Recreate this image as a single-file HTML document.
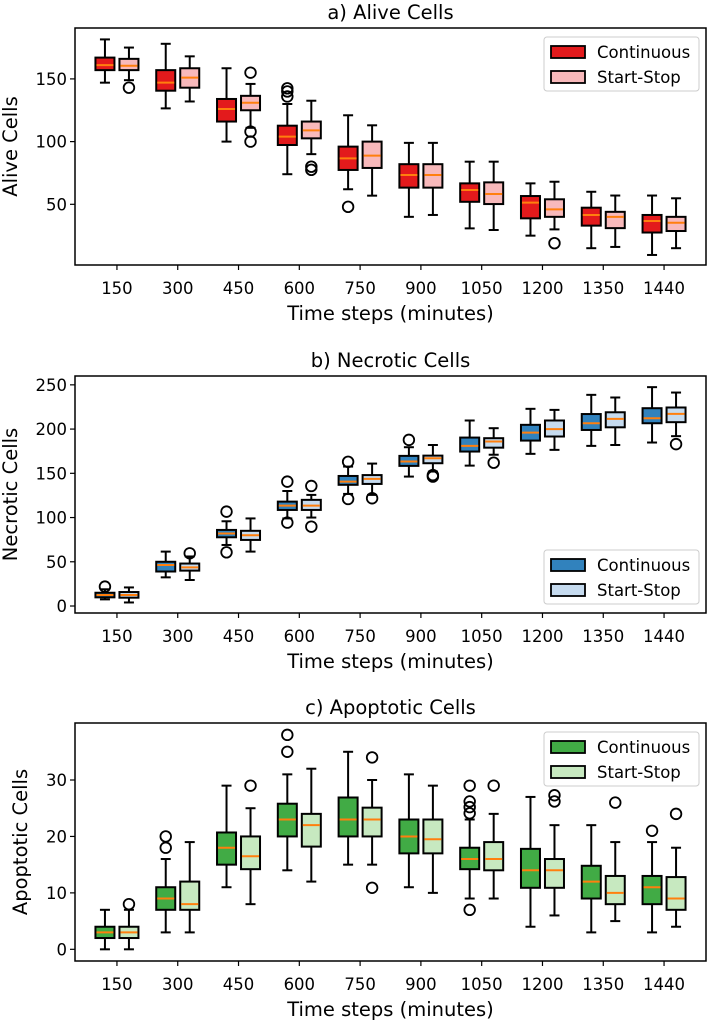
<!DOCTYPE html>
<html><head><meta charset="utf-8">
<style>
html,body{margin:0;padding:0;background:#fff;}
svg{display:block;font-family:"DejaVu Sans","Liberation Sans",sans-serif;}
</style></head>
<body>
<svg id="fig" width="708" height="1020" viewBox="0 0 708 1020" xmlns="http://www.w3.org/2000/svg"></svg>
<script>
const categories = ["150","300","450","600","750","900","1050","1200","1350","1440"];
const seriesNames = ["Continuous","Start-Stop"];
// [whiskerLow, Q1, median, Q3, whiskerHigh]
const aliveCont = [[147,157,161,167,181.5],[126.5,140.6,147,157,178],[100,116,126,134,158.5],[74,97.3,104,112.7,130],[62,77.4,86.6,96,121],[40,63.3,73.4,82,99],[30.8,52,61.4,66.7,84],[25,38.8,51.3,56.6,66.7],[15,33,41.5,47.3,60],[9.6,27.5,36.7,41.5,57]];
const aliveSS = [[149,157,160.5,166,175],[132,143,151,158.5,168],[111,125,131,136.5,146],[90,102.6,109,116,132.6],[56.9,79,88.8,100,113],[41.5,63.3,73.4,82,99],[29.5,50.2,58.2,67.5,84],[30,40,46,54,68],[16,31,40,44,57],[15,28.7,35.3,40,54.8]];
const aliveContOut = [[],[],[],[142.5,140,136],[48],[],[],[],[],[]];
const aliveSSOut = [[143],[],[155,108,100],[80,77.5],[],[],[],[19],[],[]];
const necCont = [[7.5,9.8,12.4,15,18.9],[32.4,39,46.4,50,61.5],[69,77.7,82,86,95.8],[99,108.6,113.5,118,130],[126.7,137,140.6,147,157.6],[146.3,158.4,163.3,169.7,179.5],[158.7,174.6,181,190.4,209.7],[172,187,196,204.8,222.9],[181,199,206.6,217,238.7],[184.8,206.6,212.3,223.6,247.4]];
const necSS = [[4,9.4,12.4,15.8,21],[29.4,40,43.7,48,56],[61.5,74.7,80,85,99],[100,108.6,113.5,120,125.6],[125.6,138,143.7,148,161],[152,161.4,167,170,182],[171,179,186,189.7,201],[176.5,191.6,200,209.7,221.7],[182,202,211.5,219,235.7],[192,207.8,217.2,224.4,241.3]];
const necContOut = [[21.9],[],[106.7,60.7],[140.6,94.3],[163,121],[187.8],[],[],[],[]];
const necSSOut = [[],[59.6],[],[135.7,89.7],[121.8],[148,146.3],[162],[],[],[183]];
const apoCont = [[0,2,3,4,7],[3,7,9,11,16],[11,15,18,20.7,29],[14,20,23,25.8,31],[15,20,23,26.9,35],[11,17,20,23,31],[9,14.2,16,18,23],[4,10.9,14,17.8,27],[3,9,12,14.8,22],[3,8,11,13,19]];
const apoSS = [[0,2,3,4,7],[3,7,8,12,19],[8,14.2,16.5,20,25],[12,18.2,22,24,32],[15,20,23,25.1,30],[10,17,19.5,23,29],[9,14,16,19,24],[6,10.9,14,16,22],[5,8,10,13,19],[4,7,9,12.8,18]];
const apoContOut = [[],[20,18],[],[38,35],[],[],[29,26.2,25.2,24.1,7],[],[],[21]];
const apoSSOut = [[8],[],[29],[],[34,10.9],[],[29],[27.3,26.2],[26],[24]];
const aliveTicks = [50,100,150];
const necTicks = [0,50,100,150,200,250];
const apoTicks = [0,10,20,30];

const NS = "http://www.w3.org/2000/svg";
const svg = document.getElementById("fig");
function mk(tag, attrs, parent){const e=document.createElementNS(NS,tag);for(const k in attrs)e.setAttribute(k,attrs[k]);(parent||svg).appendChild(e);return e;}

const AX_L = 75, AX_R = 706;
const XMIN = 0.31, XMAX = 10.69;
function xScale(u){return AX_L + (u - XMIN) / (XMAX - XMIN) * (AX_R - AX_L);}

function panel(p){
  const g = mk("g",{});
  
  
  const y = v => p.bottom - (v - p.ymin) / (p.ymax - p.ymin) * (p.bottom - p.top);
  // title
  const t = mk("text",{x:(AX_L+AX_R)/2,y:p.top-9,"text-anchor":"middle","font-size":"19.5"},g);
  t.textContent = p.title;
  
  
  // boxes
  const bw = 19, off = 12, capw = 10;
  [[p.cont,p.contOut,p.c1,0],[p.ss,p.ssOut,p.c2,1]].forEach(([data,outs,col,si])=>{
    data.forEach((d,i)=>{
      const cx = xScale(i+1) + (si===0?-off:off);
      const bg = mk("g",{},g);
      
      
      mk("line",{x1:cx,x2:cx,y1:y(d[0]),y2:y(d[1]),stroke:"#000","stroke-width":2},bg);
      mk("line",{x1:cx,x2:cx,y1:y(d[3]),y2:y(d[4]),stroke:"#000","stroke-width":2},bg);
      mk("line",{x1:cx-capw/2,x2:cx+capw/2,y1:y(d[0]),y2:y(d[0]),stroke:"#000","stroke-width":2},bg);
      mk("line",{x1:cx-capw/2,x2:cx+capw/2,y1:y(d[4]),y2:y(d[4]),stroke:"#000","stroke-width":2},bg);
      mk("rect",{x:cx-bw/2,y:y(d[3]),width:bw,height:y(d[1])-y(d[3]),fill:col,stroke:"#000","stroke-width":2},bg);
      mk("line",{x1:cx-bw/2+1,x2:cx+bw/2-1,y1:y(d[2]),y2:y(d[2]),stroke:"#ff7f0e","stroke-width":2},bg);
      outs[i].forEach(o=>{
        const c = mk("circle",{cx:cx,cy:y(o),r:5.3,fill:"none",stroke:"#000","stroke-width":1.8},bg);
        
        
      });
    });
  });
  // frame
  mk("rect",{x:AX_L,y:p.top,width:AX_R-AX_L,height:p.bottom-p.top,fill:"none",stroke:"#000","stroke-width":1.5},g);
  // x ticks
  categories.forEach((c,i)=>{
    const x = xScale(i+1);
    mk("line",{x1:x,x2:x,y1:p.bottom,y2:p.bottom+5,stroke:"#000","stroke-width":1.2},g);
    const tl = mk("text",{x:x,y:p.bottom+29,"text-anchor":"middle","font-size":"16.5"},g);
    tl.textContent = c;
    
    
  });
  const xl = mk("text",{x:(AX_L+AX_R)/2,y:p.bottom+55,"text-anchor":"middle","font-size":"19.5"},g);
  xl.textContent = "Time steps (minutes)";
  
  
  // y ticks
  p.ticks.forEach(v=>{
    const yy = y(v);
    mk("line",{x1:AX_L-5,x2:AX_L,y1:yy,y2:yy,stroke:"#000","stroke-width":1.2},g);
    const tl = mk("text",{x:AX_L-8,y:yy+6,"text-anchor":"end","font-size":"16.5"},g);
    tl.textContent = v;
    
    
  });
  const cy = (p.top+p.bottom)/2;
  const yl = mk("text",{x:p.ylx,y:cy,"text-anchor":"middle","font-size":"19.5",transform:`rotate(-90 ${p.ylx} ${cy})`},g);
  yl.textContent = p.ylabel;
  
  
  // legend
  const lg = mk("g",{},g);
  
  
  mk("rect",{x:544,y:p.legY,width:155,height:54,rx:3,fill:"#fff","fill-opacity":0.85,stroke:"#ccc","stroke-width":1},lg);
  [[p.c1,0],[p.c2,1]].forEach(([col,si])=>{
    const yy = p.legY + 9 + si*25;
    const e = mk("g",{},lg);
    
    
    mk("rect",{x:551,y:yy,width:34,height:12,fill:col,stroke:"#000","stroke-width":1.8},e);
    const tx = mk("text",{x:597,y:yy+12,"font-size":"16.5"},e);
    tx.textContent = seriesNames[si];
  });
}

panel({key:"alive",title:"a) Alive Cells",ylabel:"Alive Cells",top:28,bottom:265,ymin:1.6,ymax:190.6,ticks:aliveTicks,cont:aliveCont,ss:aliveSS,contOut:aliveContOut,ssOut:aliveSSOut,c1:"#e31a1c",c2:"#f8b9bb",ylx:17,legY:37});
panel({key:"necrotic",title:"b) Necrotic Cells",ylabel:"Necrotic Cells",top:376,bottom:613,ymin:-7.9,ymax:260,ticks:necTicks,cont:necCont,ss:necSS,contOut:necContOut,ssOut:necSSOut,c1:"#3182bd",c2:"#c6dbef",ylx:17,legY:550});
panel({key:"apoptotic",title:"c) Apoptotic Cells",ylabel:"Apoptotic Cells",top:723,bottom:961,ymin:-2.07,ymax:40.1,ticks:apoTicks,cont:apoCont,ss:apoSS,contOut:apoContOut,ssOut:apoSSOut,c1:"#41ab45",c2:"#c7e9c0",ylx:27,legY:732});
</script>
</body></html>
